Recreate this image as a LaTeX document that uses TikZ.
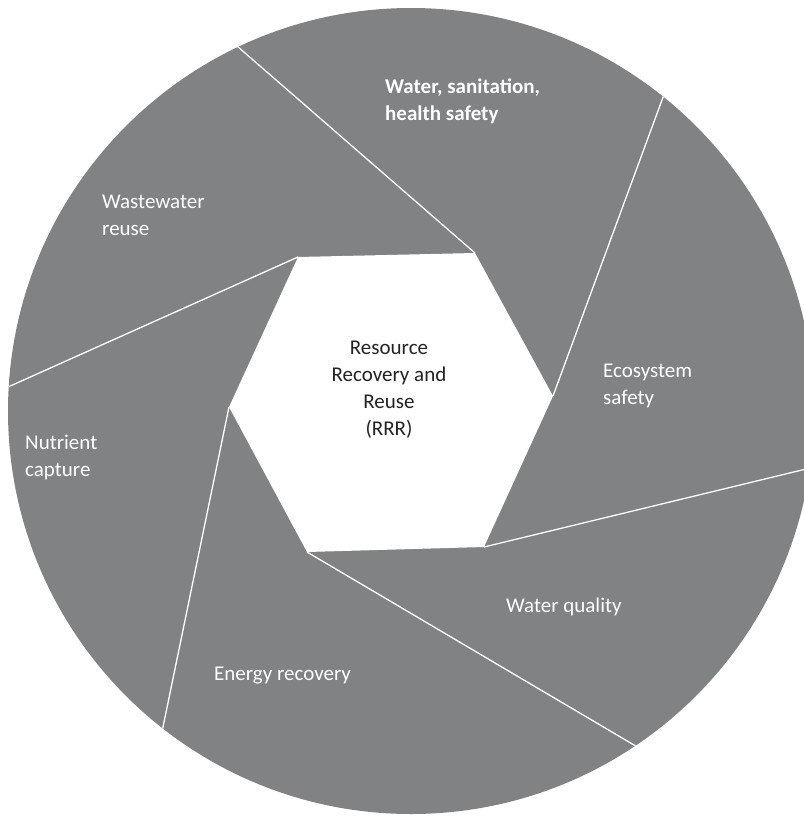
\documentclass[tikz,border=0pt]{standalone}
\usepackage{fontspec}
\setmainfont{Carlito}
\usetikzlibrary{calc}
\definecolor{disc}{RGB}{128,130,132}
\definecolor{ink}{RGB}{35,35,35}
\begin{document}
\begin{tikzpicture}[x=1pt,y=-1pt,
  blade/.style={white, line width=1.3pt},
  lbl/.style={text=white, font=\fontsize{21}{27}\selectfont, align=left, inner sep=0pt, anchor=west},
  ctr/.style={text=ink, font=\fontsize{21}{27}\selectfont, align=center, inner sep=0pt}]
\useasboundingbox (0,0) rectangle (803,816);
\coordinate (O) at (411,411);
\fill[disc] (O) circle (403pt);
% hexagon vertices
\coordinate (h1) at (298,257);
\coordinate (h2) at (475,253);
\coordinate (h3) at (553,396);
\coordinate (h4) at (484,547);
\coordinate (h5) at (307,552);
\coordinate (h6) at (229,407);
% outer ends of the blades
\coordinate (e1) at (8,387);
\coordinate (e2) at (237,46);
\coordinate (e3) at (662,100);
\coordinate (e4) at (802,470);
\coordinate (e5) at (634,745);
\coordinate (e6) at (163,727);
\fill[white] (h1) -- (h2) -- (h3) -- (h4) -- (h5) -- (h6) -- cycle;
\begin{scope}
  \clip (O) circle (403pt);
  \draw[blade] (h1) -- ($(h1)!1.1!(e1)$);
  \draw[blade] (h2) -- ($(h2)!1.1!(e2)$);
  \draw[blade] (h3) -- ($(h3)!1.1!(e3)$);
  \draw[blade] (h4) -- ($(h4)!1.1!(e4)$);
  \draw[blade] (h5) -- ($(h5)!1.1!(e5)$);
  \draw[blade] (h6) -- ($(h6)!1.1!(e6)$);
\end{scope}
\node[ctr] (c) at (389,390) {Resource\\Recovery and\\Reuse\\(RRR)};
\node[lbl, font=\fontsize{21}{27}\selectfont\bfseries] (wsh) at (385,101) {Water, sanitation,\\health safety};
\node[lbl] (wwr) at (102,215) {Wastewater\\reuse};
\node[lbl] (nc) at (25,457) {Nutrient\\capture};
\node[lbl] (es) at (603,386) {Ecosystem\\safety};
\node[lbl] (wq) at (506,607) {Water quality};
\node[lbl] (er) at (214,676) {Energy recovery};
\end{tikzpicture}
\end{document}
